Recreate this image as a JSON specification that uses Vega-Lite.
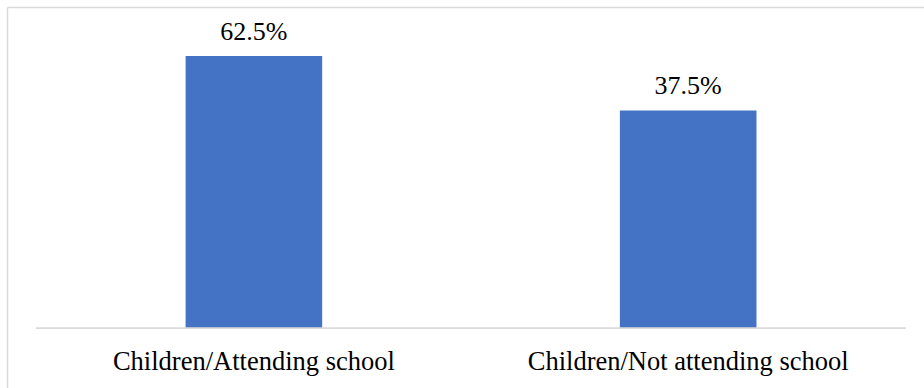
{
  "$schema": "https://vega.github.io/schema/vega-lite/v6.json",
  "width": 917,
  "height": 381,
  "autosize": {"type": "none"},
  "padding": {"left": 7, "top": 7, "right": 0, "bottom": 0},
  "background": "white",
  "config": {
    "view": {"stroke": null},
    "font": "Liberation Serif"
  },
  "data": {
    "values": [
      {"group": "Children/Attending school", "share": 0.625},
      {"group": "Children/Not attending school", "share": 0.375}
    ]
  },
  "resolve": {"axis": {"x": "independent"}},
  "layer": [
    {
      "mark": {"type": "bar", "color": "#4472c4"},
      "encoding": {
        "x": {
          "field": "group",
          "type": "nominal",
          "sort": null,
          "scale": {"paddingInner": 0.6855, "paddingOuter": 0.3985, "align": 0.516},
          "axis": {"orient": "top", "title": null, "labels": false, "ticks": false, "domain": true, "domainColor": "#d9d9d9", "domainWidth": 1.5}
        },
        "y": {
          "field": "share",
          "type": "quantitative",
          "scale": {"domain": [-0.9, 0.85], "zero": false, "nice": false},
          "axis": {"title": null, "labels": false, "ticks": false, "grid": false, "domain": true, "domainColor": "#d9d9d9", "domainWidth": 1.5}
        },
        "y2": {"datum": -0.625}
      }
    },
    {
      "mark": {"type": "text", "baseline": "alphabetic", "dy": -16, "fontSize": 26, "font": "Liberation Serif", "color": "#000000"},
      "encoding": {
        "x": {
          "field": "group",
          "type": "nominal",
          "sort": null,
          "axis": {"orient": "bottom", "title": null, "offset": -60, "domain": false, "ticks": false, "tickSize": 0, "labelPadding": 41, "labelBaseline": "alphabetic", "labelFont": "Liberation Serif", "labelFontSize": 26.5, "labelColor": "#000000", "labelAngle": 0, "labelLimit": 0}
        },
        "y": {"field": "share", "type": "quantitative"},
        "text": {"field": "share", "type": "quantitative", "format": ".1%"}
      }
    },
    {
      "mark": {"type": "rule", "color": "#d9d9d9", "strokeWidth": 1.5},
      "encoding": {
        "x": {"datum": "Children/Attending school", "bandPosition": -1.096, "axis": null},
        "x2": {"datum": "Children/Not attending school", "bandPosition": 2.094},
        "y": {"datum": -0.625}
      }
    }
  ]
}
